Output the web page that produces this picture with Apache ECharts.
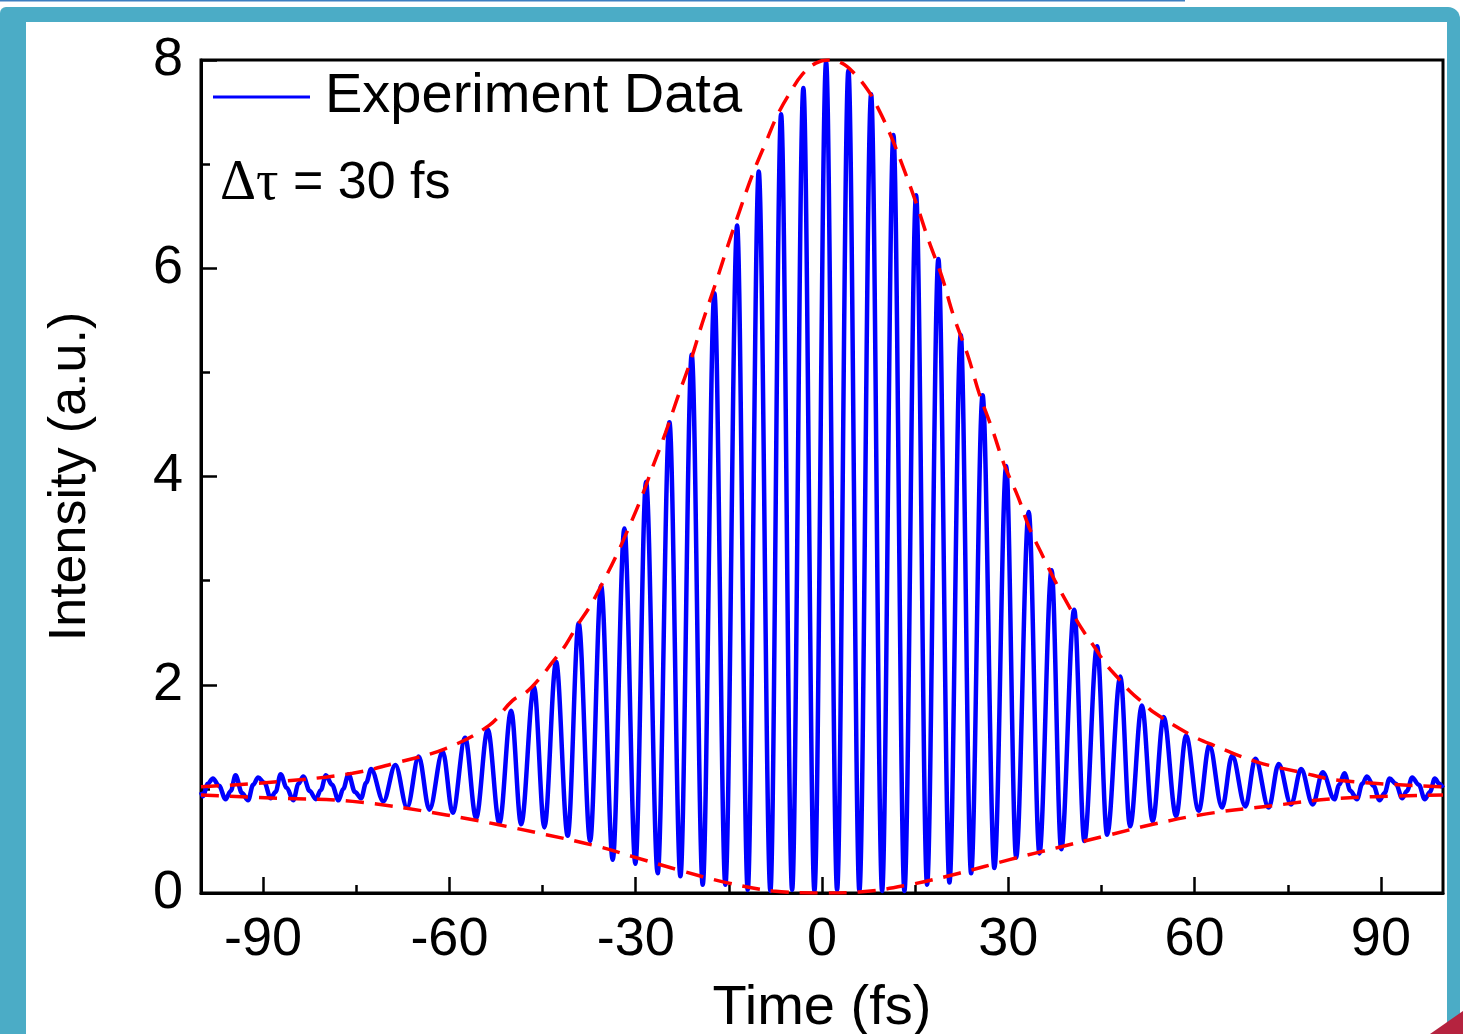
<!DOCTYPE html>
<html>
<head>
<meta charset="utf-8">
<script src="https://cdn.jsdelivr.net/npm/echarts@6/dist/echarts.min.js"></script>
<style>
  html, body { margin: 0; padding: 0; background: #fff; }
  #main { width: 1463px; height: 1034px; }
</style>
</head>
<body>
<div id="main"></div>
<script>
// fringe maxima (time in fs, intensity in a.u.)
const peakTime = [-98.08, -94.44, -90.80, -87.17, -83.53, -79.89, -76.25, -72.61, -68.70, -64.94,
  -61.08, -57.47, -53.83, -50.06, -46.38, -42.82, -39.18, -35.57, -31.82, -28.33,
  -24.57, -20.98, -17.33, -13.67, -10.19, -6.59, -3.00, 0.66, 4.25, 7.91,
  11.50, 15.15, 18.74, 22.34, 25.86, 29.66, 33.29, 36.97, 40.61, 44.30,
  48.04, 51.51, 55.02, 58.63, 62.38, 66.04, 69.79, 73.54, 77.15, 80.63,
  84.12, 87.76, 91.40, 95.04, 98.68];
const peakValue = [1.10, 1.13, 1.11, 1.14, 1.12, 1.13, 1.14, 1.19, 1.23, 1.31,
  1.36, 1.49, 1.57, 1.75, 1.98, 2.22, 2.59, 2.95, 3.50, 3.95,
  4.52, 5.17, 5.76, 6.41, 6.93, 7.48, 7.73, 7.98, 7.90, 7.67,
  7.28, 6.70, 6.09, 5.36, 4.78, 4.10, 3.66, 3.10, 2.72, 2.37,
  2.08, 1.80, 1.69, 1.51, 1.42, 1.32, 1.29, 1.24, 1.19, 1.16,
  1.15, 1.12, 1.10, 1.11, 1.10];

// fringe minima
const troughTime = [-99.69, -96.05, -92.42, -88.78, -85.14, -81.50, -77.86, -74.22, -70.63, -66.81,
  -63.22, -59.47, -55.70, -51.95, -48.45, -44.70, -40.95, -37.34, -33.70, -30.05,
  -26.46, -22.80, -19.21, -15.56, -11.96, -8.31, -4.81, -1.22, 2.43, 6.02,
  9.68, 13.27, 16.92, 20.52, 24.01, 27.76, 31.26, 35.01, 38.52, 42.25,
  45.91, 49.61, 53.25, 57.02, 60.66, 64.43, 68.18, 71.93, 75.54, 79.02,
  82.51, 86.15, 89.79, 93.43, 97.07];
const troughValue = [0.93, 0.90, 0.89, 0.91, 0.89, 0.90, 0.89, 0.91, 0.88, 0.82,
  0.80, 0.77, 0.72, 0.67, 0.66, 0.63, 0.55, 0.50, 0.32, 0.28,
  0.19, 0.16, 0.08, 0.08, 0.03, 0.02, 0.03, 0.02, 0.03, 0.02,
  0.02, 0.02, 0.08, 0.10, 0.19, 0.24, 0.34, 0.38, 0.42, 0.50,
  0.56, 0.64, 0.69, 0.74, 0.79, 0.82, 0.83, 0.82, 0.85, 0.85,
  0.90, 0.90, 0.89, 0.91, 0.90];

// noisy wiggles in the flat wings
const noiseTime = [-100, -98.9, -97.1, -95.2, -93.4, -91.6, -89.8, -88.0, -86.2, -84.3, -82.5,
  -80.7, -78.9, -77.1, -75.2, -73.4,
  83.3, 85.1, 87.0, 88.8, 90.6, 92.4, 94.2, 96.1, 97.9, 99.4, 100];
const noiseValue = [0.97, 1.05, 1.03, 0.98, 0.96, 1.04, 1.06, 0.97, 1.01, 1.05, 0.98,
  0.99, 1.04, 1.00, 0.97, 1.06,
  1.04, 0.98, 1.05, 1.03, 0.96, 1.05, 0.98, 1.04, 0.97, 1.05, 1.01];

// dashed envelopes
const upperTime = [-100, -87.4, -75.6, -68.6, -60.5, -53.6, -49.8, -47.6, -45.2, -43.5, -41.3,
  -39.5, -37.3, -35.4, -33.2, -31.4, -29.2, -27.4, -25.2, -23.3, -21.1, -19.3, -17.1,
  -15.2, -13.1, -11.2, -8.9, -7.1, -5.0, -3.2, -1.0, 1.1, 3.2, 4.9, 7.4, 9.0, 11.1,
  13.0, 15.2, 17.1, 19.3, 21.2, 23.5, 25.3, 27.5, 29.3, 31.6, 33.3, 35.6, 37.5, 39.8,
  41.6, 43.9, 45.7, 47.9, 49.7, 52.0, 53.3, 59.3, 63.0, 70.0, 77.0, 83.5, 100];
const upperValue = [1.02, 1.07, 1.15, 1.25, 1.39, 1.61, 1.85, 1.93, 2.08, 2.21, 2.38,
  2.56, 2.76, 2.97, 3.23, 3.47, 3.78, 4.07, 4.42, 4.75, 5.12, 5.47, 5.86,
  6.21, 6.58, 6.90, 7.23, 7.48, 7.70, 7.86, 7.97, 8.0, 7.97, 7.89, 7.71, 7.54, 7.27,
  6.98, 6.62, 6.28, 5.92, 5.54, 5.16, 4.80, 4.44, 4.12, 3.80, 3.52, 3.23, 3.00, 2.75,
  2.56, 2.36, 2.20, 2.05, 1.93, 1.81, 1.74, 1.52, 1.42, 1.26, 1.16, 1.08, 1.02];
const lowerTime = [-100, -87.4, -75.6, -60.5, -44.4, -35.6, -30.5, -23, -15.4, -7.9, -0.4,
  6, 14.1, 22.1, 30.2, 38.2, 45.8, 53.3, 61.9, 72.7, 83.5, 100];
const lowerValue = [0.94, 0.91, 0.88, 0.75, 0.56, 0.44, 0.35, 0.22, 0.10, 0.02, 0.0,
  0.01, 0.08, 0.19, 0.32, 0.44, 0.55, 0.66, 0.76, 0.84, 0.91, 0.94];

const xLabels = [-90, -60, -30, 0, 30, 60, 90];
const xMinor = [-75, -45, -15, 15, 45, 75];

const pair = (ts, vs) => ts.map((t, i) => [t, vs[i]]);
const expData = pair(peakTime, peakValue)
  .concat(pair(troughTime, troughValue), pair(noiseTime, noiseValue))
  .sort((a, b) => a[0] - b[0]);

const FONT = 'Liberation Sans, Arial, sans-serif';
const SERIF = 'Liberation Serif, Times New Roman, serif';
const chart = echarts.init(document.getElementById('main'));

const option = {
  animation: false,
  backgroundColor: '#fff',
  graphic: [
    { type: 'line', z: -20, shape: { x1: 0, y1: 0.5, x2: 1185, y2: 0.5 }, style: { stroke: '#3d7fc0', lineWidth: 2 } },
    { type: 'rect', z: -20, shape: { x: 0, y: 7, width: 1460, height: 1040, r: [6, 12, 0, 0] }, style: { fill: '#4bacc6' } },
    { type: 'rect', z: -19, shape: { x: 26, y: 22, width: 1421, height: 1020 }, style: { fill: '#fff' } },
    { type: 'polygon', z: -18, shape: { points: [[1430, 1034], [1463, 1011], [1463, 1034]] }, style: { fill: '#b5233f' } },
    {
      type: 'text', z: 100, x: 220, y: 184,
      style: {
        text: '{g|Δτ}{s| = 30 fs}',
        fill: '#000',
        verticalAlign: 'middle',
        rich: {
          g: { fontFamily: SERIF, fontSize: 56, fill: '#000' },
          s: { fontFamily: FONT, fontSize: 52, fill: '#000' }
        }
      }
    }
  ],
  grid: {
    left: 201, top: 60, width: 1242, height: 833,
    outerBoundsMode: 'none', containLabel: false,
    show: true, borderColor: '#000', borderWidth: 3
  },
  legend: {
    data: [{ name: 'Experiment Data', icon: 'rect' }],
    left: 213, top: 67, padding: 0,
    itemWidth: 97, itemHeight: 3,
    textStyle: { fontSize: 56, fontFamily: FONT, color: '#000', lineHeight: 60, padding: [0, 0, 0, 10] }
  },
  xAxis: [
    {
      type: 'value', min: -100, max: 100,
      name: 'Time (fs)', nameLocation: 'middle', nameGap: 88,
      nameTextStyle: { fontSize: 56, fontFamily: FONT, color: '#000' },
      axisLine: { show: true, onZero: false, lineStyle: { color: '#000', width: 3 } },
      axisTick: { show: true, inside: true, length: 16, customValues: xLabels, lineStyle: { color: '#000', width: 2.5 } },
      axisLabel: { customValues: xLabels, fontSize: 54, fontFamily: FONT, color: '#000', margin: 20 },
      splitLine: { show: false }
    },
    {
      type: 'value', min: -100, max: 100, position: 'bottom',
      axisLine: { show: false, onZero: false },
      axisTick: { show: true, inside: true, length: 8, customValues: xMinor, lineStyle: { color: '#000', width: 2.5 } },
      axisLabel: { show: false },
      splitLine: { show: false }
    }
  ],
  yAxis: {
    type: 'value', min: 0, max: 8, interval: 2,
    name: 'Intensity (a.u.)', nameLocation: 'middle', nameGap: 104,
    nameTextStyle: { fontSize: 52, fontFamily: FONT, color: '#000' },
    axisLine: { show: true, onZero: false, lineStyle: { color: '#000', width: 3 } },
    axisTick: { show: true, inside: true, length: 16, lineStyle: { color: '#000', width: 2.5 } },
    minorTick: { show: true, splitNumber: 2, length: 9, lineStyle: { color: '#000', width: 2.5 } },
    axisLabel: { fontSize: 54, fontFamily: FONT, color: '#000', margin: 18 },
    splitLine: { show: false }
  },
  series: [
    {
      name: 'Experiment Data', type: 'line', data: expData,
      showSymbol: false, symbol: 'none', smooth: 0.35, smoothMonotone: 'x', z: 3,
      lineStyle: { color: '#0000ff', width: 4.5 }, itemStyle: { color: '#0000ff' }
    },
    {
      name: 'upper', type: 'line', data: pair(upperTime, upperValue),
      showSymbol: false, symbol: 'none', smooth: 0.4, z: 4,
      lineStyle: { color: '#ff0000', width: 3.5, type: [18, 11] }
    },
    {
      name: 'lower', type: 'line', data: pair(lowerTime, lowerValue),
      showSymbol: false, symbol: 'none', smooth: 0.4, z: 4,
      lineStyle: { color: '#ff0000', width: 3.5, type: [18, 11] }
    }
  ]
};
chart.setOption(option);
</script>
</body>
</html>
